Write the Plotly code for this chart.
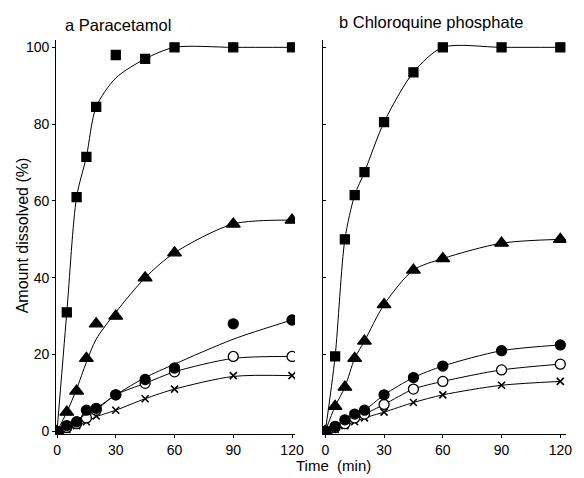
import plotly.graph_objects as go

# ---- data ----
time = [0, 5, 10, 15, 20, 30, 45, 60, 90, 120]

# a Paracetamol
a_square = [0, 31, 61, 71.5, 84.5, 98, 97, 100, 100, 100]
a_triangle = [0, 5, 10.5, 19, 28, 30, 40, 46.5, 54, 55]
a_dot = [0, 1.5, 2.5, 5.5, 6, 9.5, 13.5, 16.5, 28, 29]
a_ring = [0, 1, 2, 3.5, 5.5, 9.5, 12.5, 15.5, 19.5, 19.5]
a_cross = [0, 0.5, 1.5, 2.5, 4, 5.5, 8.5, 11, 14.5, 14.5]
# fitted curves drawn in panel a
a_square_fit = [0, 31, 61, 71.5, 84.5, 92, 97, 100, 100, 100]
a_triangle_fit = [0, 5, 11, 18, 24, 31, 40, 46.5, 54, 55]
a_dot_fit = [0, 1.5, 3, 4.5, 6, 9.5, 14, 17.5, 24, 29]
a_ring_fit = [0, 1, 2, 3.5, 5.5, 9.5, 12.5, 15.5, 19, 19.5]
a_cross_fit = [0, 0.5, 1.5, 2.5, 3.8, 5.5, 8.5, 11, 14.3, 14.5]

# b Chloroquine phosphate
b_square = [0, 19.5, 50, 61.5, 67.5, 80.5, 93.5, 100, 100, 100]
b_triangle = [0, 6.5, 11.5, 19, 23.5, 33, 42, 45, 49, 50]
b_dot = [0, 1.3, 3, 4.5, 5.5, 9.5, 14, 17, 21, 22.5]
b_ring = [0, 1, 2, 3.5, 4.5, 7, 11, 13, 16, 17.5]
b_cross = [0, 0.5, 1.5, 2.5, 3.5, 5, 7.5, 9.5, 12, 13]

x_ticks = [0, 30, 60, 90, 120]
y_ticks = [0, 20, 40, 60, 80, 100]

# page body has an 8px margin: the figure is sized to fit inside the window
OFF = 8
W, H = 584 - OFF, 478 - OFF
FONT = "Liberation Sans, Arial, sans-serif"

fig = go.Figure()


def add_series(xa, ya, y, fit, symbol, size, filled):
    fig.add_trace(go.Scatter(
        x=time, y=fit, mode="lines", xaxis=xa, yaxis=ya,
        line=dict(color="black", width=1, shape="spline", smoothing=0.8),
        hoverinfo="skip", showlegend=False))
    if symbol == "x-thin":
        marker = dict(symbol="x-thin", size=size, color="black",
                      line=dict(color="black", width=1.6))
    else:
        marker = dict(symbol=symbol, size=size,
                      color="black" if filled else "white",
                      line=dict(color="black", width=1.3))
    fig.add_trace(go.Scatter(
        x=time, y=y, mode="markers", xaxis=xa, yaxis=ya,
        marker=marker, showlegend=False))


# panel a
add_series("x", "y", a_cross, a_cross_fit, "x-thin", 7, True)
add_series("x", "y", a_ring, a_ring_fit, "circle", 10, False)
add_series("x", "y", a_dot, a_dot_fit, "circle", 10, True)
add_series("x", "y", a_triangle, a_triangle_fit, "triangle-up", 12, True)
add_series("x", "y", a_square, a_square_fit, "square", 9, True)
# panel b
add_series("x2", "y2", b_cross, b_cross, "x-thin", 7, True)
add_series("x2", "y2", b_ring, b_ring, "circle", 10, False)
add_series("x2", "y2", b_dot, b_dot, "circle", 10, True)
add_series("x2", "y2", b_triangle, b_triangle, "triangle-up", 12, True)
add_series("x2", "y2", b_square, b_square, "square", 9, True)


def px_x(p):
    return (p - OFF) / W


def px_y(p):
    return 1 - (p - OFF) / H


y_dom = [px_y(439), px_y(40)]
axis_common = dict(showgrid=False, zeroline=False, showline=True,
                   linecolor="black", linewidth=1,
                   ticklen=3, tickcolor="black",
                   tickfont=dict(family=FONT, size=14, color="black"))

fig.update_layout(
    width=W, height=H,
    margin=dict(l=0, r=0, t=0, b=0),
    paper_bgcolor="white", plot_bgcolor="white",
    font=dict(family=FONT, color="black"),
    xaxis=dict(domain=[px_x(54), px_x(298)], range=[-0.5, 121.5],
               tickvals=x_ticks, anchor="y", ticks="outside", **axis_common),
    yaxis=dict(domain=y_dom, range=[-0.8, 102], tickvals=y_ticks,
               anchor="x", ticks="outside", **axis_common),
    xaxis2=dict(domain=[px_x(327), px_x(575)], range=[-1, 123],
                tickvals=x_ticks, anchor="y2", ticks="outside", **axis_common),
    yaxis2=dict(domain=y_dom, range=[-0.8, 102], tickvals=y_ticks,
                anchor="x2", showticklabels=False, ticks="inside",
                **axis_common),
    annotations=[
        dict(text="a Paracetamol", x=px_x(61), y=px_y(25), xref="paper",
             yref="paper", xanchor="left", yanchor="middle", showarrow=False,
             font=dict(family=FONT, size=16.5)),
        dict(text="b Chloroquine phosphate", x=px_x(341), y=px_y(22),
             xref="paper", yref="paper", xanchor="left", yanchor="middle",
             showarrow=False, font=dict(family=FONT, size=16.5)),
        dict(text="Amount dissolved (%)", x=px_x(20), y=px_y(238),
             xref="paper", yref="paper", xanchor="center", yanchor="middle",
             textangle=-90, showarrow=False, font=dict(family=FONT, size=16)),
        dict(text="Time  (min)", x=px_x(337), y=px_y(470), xref="paper",
             yref="paper", xanchor="center", yanchor="middle",
             showarrow=False, font=dict(family=FONT, size=15)),
    ],
)

fig.write_html("out.html", config={"displayModeBar": False})
